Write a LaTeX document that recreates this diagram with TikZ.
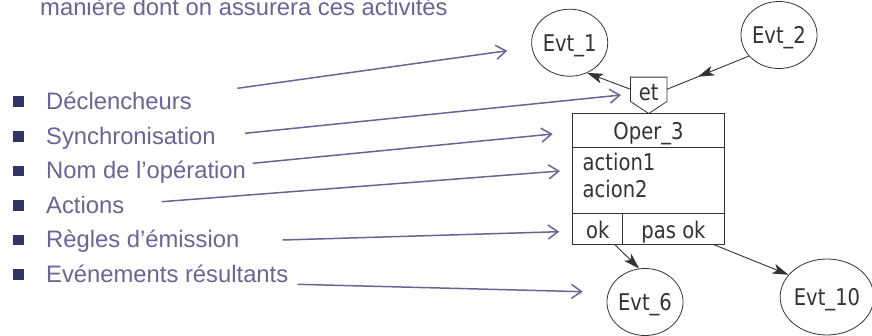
\documentclass[tikz,border=0pt]{standalone}
\usepackage{fontspec}
\setmainfont{Liberation Sans}
\newfontfamily\diagfont[FakeStretch=0.85]{DejaVu Sans}
\usetikzlibrary{arrows.meta,decorations.markings,calc,shapes.geometric}
\definecolor{lilac}{HTML}{6B6494}
\definecolor{bulletc}{HTML}{333366}
\definecolor{ink}{HTML}{333333}
\begin{document}
\begin{tikzpicture}[x=1pt,y=-1pt,
  listtext/.style={anchor=base west, text=lilac, font=\fontsize{23.8}{28}\selectfont, inner sep=0pt},
  bul/.style={fill=bulletc, minimum size=10.5pt, inner sep=0pt},
  evt/.style={ellipse, draw=ink, line width=0.8pt, text=ink, font=\diagfont\fontsize{23}{26}\selectfont,
    minimum width=76pt, minimum height=67pt, inner sep=0pt, text height=16.8pt, text depth=0pt},
  dtext/.style={text=ink, font=\diagfont\fontsize{23}{26}\selectfont, inner sep=0pt},
  boxline/.style={draw=ink, line width=0.8pt},
  blackarrow/.style={draw=ink, line width=0.9pt, -{Stealth[length=16pt,width=10pt,inset=4pt]}},
  pointer/.style={draw=lilac, line width=1.5pt, -{Straight Barb[length=10pt,width=14pt]}}
]
\fill[white] (0,0) rectangle (872,335);
\useasboundingbox (0,0) rectangle (872,335);

% intro text
\node[listtext] (intro) at (40,15) {manière dont on assurera ces activités};

% bullet list
\node[bul] (b1) at (18.5,101.7) {};
\node[bul] (b2) at (18.5,136.3) {};
\node[bul] (b3) at (18.5,170.9) {};
\node[bul] (b4) at (18.5,205.5) {};
\node[bul] (b5) at (18.5,240.1) {};
\node[bul] (b6) at (18.5,274.7) {};
\node[listtext] (l1) at (46,109.5) {Déclencheurs};
\node[listtext] (l2) at (46,144.1) {Synchronisation};
\node[listtext] (l3) at (46,178.7) {Nom de l’opération};
\node[listtext] (l4) at (46,213.3) {Actions};
\node[listtext] (l5) at (46,247.9) {Règles d’émission};
\node[listtext] (l6) at (46,282.5) {Evénements résultants};

% events
\node[evt] (evt1) at (569.7,42.7) {Evt\_1};
\node[evt] (evt2) at (779,35) {Evt\_2};
\node[evt] (evt6) at (645,302) {Evt\_6};
\node[evt, minimum width=86pt, minimum height=76pt] (evt10) at (827,297) {Evt\_10};

% synchronisation "et"
\node[minimum width=36pt, minimum height=24pt, inner sep=0pt] (et) at (648.7,89.3) {};
\draw[boxline] (et.south west) -- (et.north west) -- (et.north east) -- (et.south east)
  -- ($(et.south)+(0,12)$) -- cycle;
\node[dtext, anchor=base] (ettext) at (648.7,100) {et};

% operation box
\node[boxline, minimum width=151.6pt, minimum height=130.7pt, inner sep=0pt] (oper) at (648.5,178.65) {};
\draw[boxline] ($(oper.north west)+(0,34)$) -- ($(oper.north east)+(0,34)$);
\draw[boxline] ($(oper.south west)+(0,-31.3)$) -- ($(oper.south east)+(0,-31.3)$);
\draw[boxline] ($(oper.south west)+(50,-31.3)$) -- ($(oper.south west)+(50,0)$);
\node[dtext, anchor=base] (opname) at (648.5,139.3) {Oper\_3};
\node[dtext, anchor=base west] (act1) at (582.5,170) {action1};
\node[dtext, anchor=base west] (act2) at (582.5,197) {acion2};
\node[dtext, anchor=base] (ok) at (597.7,238) {ok};
\node[dtext, anchor=base] (pasok) at (673.5,238) {pas ok};

% black connectors
\draw[blackarrow] (et.west) -- (evt1.-60);
\draw[draw=ink, line width=0.9pt, postaction={decorate},
  decoration={markings, mark=at position 0.62 with {\arrow{Stealth[length=16pt,width=10pt,inset=4pt]}}}]
  (evt2.215) -- (et.east);
\coordinate (okout) at ($(oper.south west)+(42.3,0)$);
\coordinate (pasout) at ($(oper.south west)+(141,0)$);
\draw[blackarrow] (okout) -- (evt6.100);
\draw[blackarrow] (pasout) -- (evt10.150);

% purple pointers
\coordinate (s1) at (237.3,88.3);  \coordinate (t1) at (507.3,50.7);
\coordinate (s2) at (245,133.3);   \coordinate (t2) at (621,95);
\coordinate (s3) at (252.7,163.3); \coordinate (t3) at (552.7,134);
\coordinate (s4) at (161.7,201.7); \coordinate (t4) at (560,171);
\coordinate (s5) at (282.7,240);   \coordinate (t5) at (559.3,231.7);
\coordinate (s6) at (297.7,284.3); \coordinate (t6) at (582.7,291.7);
\draw[pointer] (s1) -- (t1);
\draw[pointer] (s2) -- (t2);
\draw[pointer] (s3) -- (t3);
\draw[pointer] (s4) -- (t4);
\draw[pointer] (s5) -- (t5);
\draw[pointer] (s6) -- (t6);
\end{tikzpicture}
\end{document}
